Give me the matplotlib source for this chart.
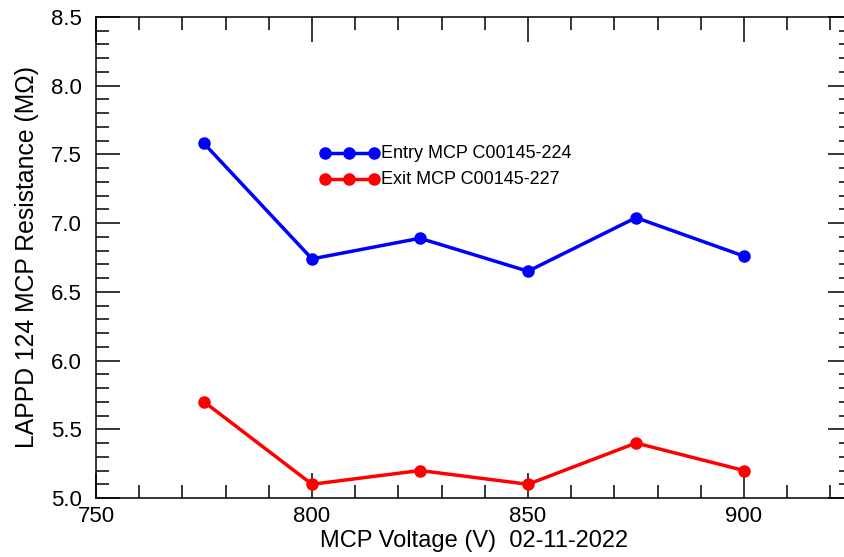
import matplotlib
matplotlib.use("Agg")
import matplotlib.pyplot as plt
from matplotlib.ticker import MultipleLocator, FormatStrFormatter

plt.rcParams['font.family'] = ['Liberation Sans', 'DejaVu Sans']

voltage = [775, 800, 825, 850, 875, 900]
entry_res = [7.58, 6.74, 6.89, 6.65, 7.04, 6.76]
exit_res = [5.70, 5.10, 5.20, 5.10, 5.40, 5.20]
entry_label = "Entry MCP C00145-224"
exit_label = "Exit MCP C00145-227"

W, H = 844, 557
fig = plt.figure(figsize=(W / 100, H / 100), dpi=100)
# plot box runs slightly past the right edge of the canvas
left, right, top, bottom = 96, 852, 17, 498
ax = fig.add_axes([left / W, 1 - bottom / H, (right - left) / W, (bottom - top) / H])

line_kw = dict(lw=2.5, marker='o', ms=8, clip_on=False)
ax.plot(voltage, entry_res, color='#0000ff', **line_kw)
ax.plot(voltage, exit_res, color='#ff0000', **line_kw)

ax.set_xlim(750, 925)
ax.set_ylim(5.0, 8.5)
ax.xaxis.set_major_locator(MultipleLocator(50))
ax.xaxis.set_minor_locator(MultipleLocator(10))
ax.yaxis.set_major_locator(MultipleLocator(0.5))
ax.yaxis.set_minor_locator(MultipleLocator(0.1))
ax.yaxis.set_major_formatter(FormatStrFormatter('%.1f'))

for s in ax.spines.values():
    s.set_linewidth(1.1)

ax.tick_params(which='both', direction='in', top=True, right=True, width=1.1,
               labelsize=16)
ax.tick_params(axis='x', which='major', length=18, pad=6)
ax.tick_params(axis='x', which='minor', length=9.4)
ax.tick_params(axis='y', which='major', length=17.3, pad=10)
ax.tick_params(axis='y', which='minor', length=9.4)

ax.set_xlabel("MCP Voltage (V)  02-11-2022", fontsize=17, labelpad=2)
ax.set_ylabel("LAPPD 124 MCP Resistance (M\u03a9)", fontsize=17.8, labelpad=9)

# in-plot key: three dots on a short line per series, label to the right
key_x = [803.0, 808.6, 814.4]
for yk, col, lab in [(7.51, '#0000ff', entry_label), (7.32, '#ff0000', exit_label)]:
    ax.plot(key_x, [yk] * 3, color=col, lw=2.5, marker='o', ms=8)
    ax.text(816.0, yk, lab, fontsize=13, va='center', ha='left')

fig.savefig("out.png", dpi=100)
